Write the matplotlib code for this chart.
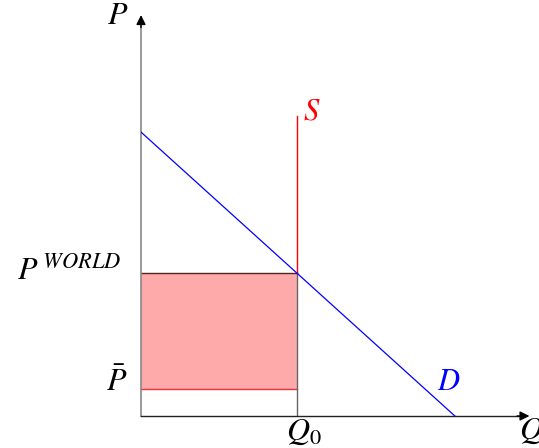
import matplotlib
matplotlib.use("Agg")
import matplotlib.pyplot as plt
from matplotlib.patches import Rectangle

plt.rcParams['mathtext.fontset'] = 'stix'
plt.rcParams['font.family'] = ['Liberation Serif', 'DejaVu Serif']

# economic values (arbitrary units)
Q0 = 5.0
demand_p_intercept = 9.1
demand_q_intercept = 10.06
p_world = 4.58
p_bar = 0.87
supply_top = 9.6
x_max = 12.45
y_max = 12.85

labels = {"P": "$P$", "Q": "$Q$", "S": "$S$", "D": "$D$",
          "pw": "$P^{\\,WORLD}$", "pbar": "$\\bar{P}$", "q0": "$Q_0$"}

W, H = 539, 448
fig = plt.figure(figsize=(W / 100, H / 100), dpi=100)
ox, oy = 141, 416
scale = 31.2
axw = (W - ox) / scale
axh = oy / scale
ax = fig.add_axes([ox / W, (H - oy) / H, (W - ox) / W, oy / H])
ax.set_xlim(0, axw)
ax.set_ylim(0, axh)
ax.axis('off')

# shaded rectangle
ax.add_patch(Rectangle((0, p_bar), Q0, p_world - p_bar, facecolor='#FFAAAA',
                       edgecolor='none', zorder=1))
ax.plot([0, Q0], [p_world, p_world], color='#552222', lw=1.0, zorder=2)
ax.plot([0, Q0], [p_bar, p_bar], color='#EE3333', lw=1.0, zorder=2)

# Q0 drop line and supply
ax.plot([Q0, Q0], [0, p_world], color='#666666', lw=1.0, zorder=2)
ax.plot([Q0, Q0], [p_world, supply_top], color='red', lw=1.0, zorder=3)

# demand
ax.plot([0, demand_q_intercept], [demand_p_intercept, 0], color='blue', lw=0.9, zorder=3)

# axes lines
ax.plot([0, 0], [0, y_max - 0.2], color='#888888', lw=1.2, clip_on=False, zorder=2)
ax.plot([0, x_max - 0.2], [0, 0], color='#222222', lw=1.0, clip_on=False, zorder=2)
# arrow heads
ax.annotate('', xy=(0, y_max), xytext=(0, y_max - 0.4),
            arrowprops=dict(arrowstyle='-|>', color='black', lw=1.0,
                            mutation_scale=14, shrinkA=0, shrinkB=0),
            annotation_clip=False)
ax.annotate('', xy=(x_max, 0), xytext=(x_max - 0.4, 0),
            arrowprops=dict(arrowstyle='-|>', color='black', lw=1.0,
                            mutation_scale=14, shrinkA=0, shrinkB=0),
            annotation_clip=False)

fs = 23
ax.text(-0.74, 12.79, labels["P"], fontsize=fs, ha='center', va='center', clip_on=False)
ax.text(12.1, -0.5, labels["Q"], fontsize=fs, ha='left', va='center', clip_on=False)
ax.text(5.48, 9.74, labels["S"], fontsize=22, color='red', ha='center', va='center')
ax.text(9.87, 1.06, labels["D"], fontsize=22, color='blue', ha='center', va='center')
ax.text(-0.62, 4.62, labels["pw"], fontsize=fs, ha='right', va='center', clip_on=False)
ax.text(-0.77, 1.08, labels["pbar"], fontsize=fs, ha='center', va='center', clip_on=False)
ax.text(5.22, -0.51, labels["q0"], fontsize=fs, ha='center', va='center', clip_on=False)

fig.savefig('out.png', dpi=100)
